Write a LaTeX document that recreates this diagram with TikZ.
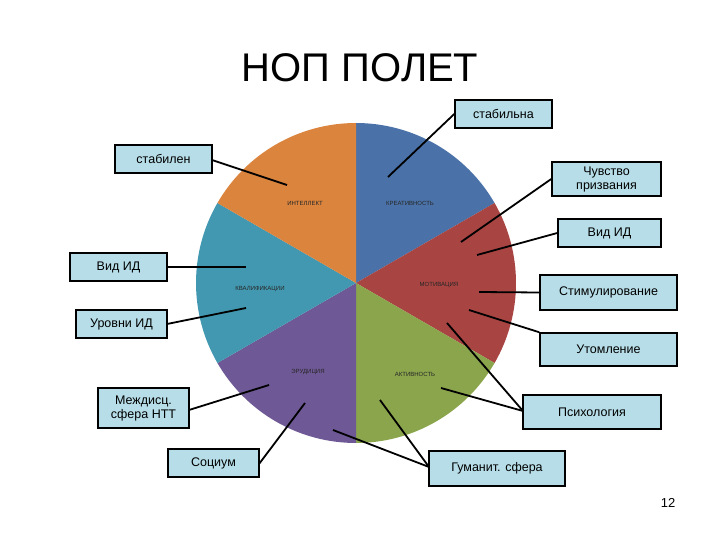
\documentclass[tikz,border=0pt]{standalone}
\usepackage{fontspec}
\setmainfont{Liberation Sans}
\begin{document}
\begin{tikzpicture}[x=1pt,y=-1pt,
  lbl/.style={draw=black,line width=1.5pt,fill=boxc,align=center,font=\fontsize{12.5}{14}\selectfont,inner sep=0pt},
  con/.style={line width=1.8pt},
  sl/.style={font=\fontsize{6}{7}\selectfont,text=black!85}]
\definecolor{boxc}{HTML}{B7DEE8}
\definecolor{cb}{HTML}{4A72A8}\definecolor{cr}{HTML}{A84442}\definecolor{cg}{HTML}{8BA54D}
\definecolor{cp}{HTML}{6E5895}\definecolor{ct}{HTML}{4298B0}\definecolor{co}{HTML}{DB843D}
\useasboundingbox[fill=white] (0,0) rectangle (720,540);
\node[font=\fontsize{40}{44}\selectfont] (title) at (360,68) {НОП ПОЛЕТ};
\coordinate (c) at (356,283);
\fill[cb] (c) -- ++(90:-160) arc[start angle=-90,end angle=-30,radius=160] -- cycle;
\fill[cr] (c) -- ++(-30:160) arc[start angle=-30,end angle=30,radius=160] -- cycle;
\fill[cg] (c) -- ++(30:160) arc[start angle=30,end angle=90,radius=160] -- cycle;
\fill[cp] (c) -- ++(90:160) arc[start angle=90,end angle=150,radius=160] -- cycle;
\fill[ct] (c) -- ++(150:160) arc[start angle=150,end angle=210,radius=160] -- cycle;
\fill[co] (c) -- ++(210:160) arc[start angle=210,end angle=270,radius=160] -- cycle;
\node[sl] (s1) at (305,203) {ИНТЕЛЛЕКТ};
\node[sl] (s2) at (410,203) {КРЕАТИВНОСТЬ};
\node[sl] (s3) at (260,289) {КВАЛИФИКАЦИИ};
\node[sl] (s4) at (439,285) {МОТИВАЦИЯ};
\node[sl] (s5) at (308,372) {ЭРУДИЦИЯ};
\node[sl] (s6) at (415,374) {АКТИВНОСТЬ};
% boxes
\node[lbl,minimum width=97,minimum height=28] (b1) at (503.5,114) {стабильна};
\node[lbl,minimum width=97,minimum height=28] (b2) at (163.5,159) {стабилен};
\node[lbl,minimum width=109,minimum height=34] (b3) at (606.5,179) {Чувство\\призвания};
\node[lbl,minimum width=103,minimum height=28] (b4) at (609.5,233) {Вид  ИД};
\node[lbl,minimum width=137,minimum height=35] (b5) at (608.5,292.5) {Стимулирование};
\node[lbl,minimum width=137,minimum height=33] (b6) at (608.5,349.5) {Утомление};
\node[lbl,minimum width=138,minimum height=34] (b7) at (592,412) {Психология};
\node[lbl,minimum width=136,minimum height=35] (b8) at (497,468.5) {Гуманит. сфера};
\node[lbl,minimum width=91,minimum height=28] (b9) at (213.5,463) {Социум};
\node[lbl,minimum width=91,minimum height=40] (b10) at (143.5,408) {Междисц.\\сфера НТТ};
\node[lbl,minimum width=91,minimum height=28] (b11) at (121.5,324) {Уровни ИД};
\node[lbl,minimum width=97,minimum height=28] (b12) at (118.5,267) {Вид ИД};
\node[font=\fontsize{13}{15}\selectfont] (pg) at (668,503) {12};
% connectors
\coordinate (e1) at (388,177); \coordinate (e2) at (287,185);
\coordinate (e3) at (461,242); \coordinate (e4) at (477,255);
\coordinate (e5) at (479,292); \coordinate (e6) at (469,310);
\coordinate (e7a) at (447,323); \coordinate (e7b) at (441,388);
\coordinate (e8a) at (333,430); \coordinate (e8b) at (380,400);
\coordinate (e9) at (305,403); \coordinate (e10) at (269,385);
\coordinate (e11) at (246,308); \coordinate (e12) at (246,267);
\draw[con] (b1.west) -- (e1);
\draw[con] (212,160) -- (e2);
\draw[con] (b3.west) -- (e3);
\draw[con] (b4.west) -- (e4);
\draw[con] (b5.west) -- (e5);
\draw[con] (b6.north west) -- (e6);
\draw[con] (523,411) -- (e7a);
\draw[con] (523,411) -- (e7b);
\draw[con] (429,467) -- (e8a);
\draw[con] (429,467) -- (e8b);
\draw[con] (259,464) -- (e9);
\draw[con] (189,410) -- (e10);
\draw[con] (167,324) -- (e11);
\draw[con] (b12.east) -- (e12);
\end{tikzpicture}
\end{document}
